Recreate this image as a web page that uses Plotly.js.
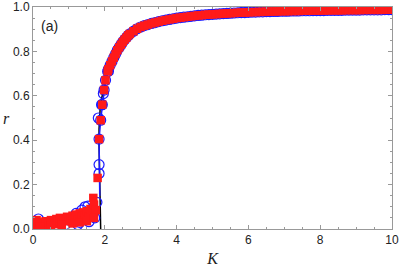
<!DOCTYPE html>
<html>
<head>
<meta charset="utf-8">
<script src="https://cdn.plot.ly/plotly-3.0.1.min.js"></script>
<style>html,body{margin:0;padding:0;background:#fff;}#chart{width:399px;height:271px;}</style>
</head>
<body>
<div id="chart"></div>
<script>
// Low-coupling (incoherent) region, red squares
const kLowRed = [0.00,0.03,0.05,0.10,0.15,0.20,0.25,0.30,0.35,0.40,0.45,0.50,0.55,0.60,0.65,0.70,0.75,0.80,0.85,0.90,0.95,1.00,1.05,1.10,1.15,1.20,1.25,1.30,1.35,1.40,1.45,1.50,1.55,1.60,1.65,1.68,1.70,1.75,1.80,0.20,0.50,0.80,1.10,1.30,1.50,1.70];
const rLowRed = [0.030,0.012,0.020,0.040,0.015,0.030,0.012,0.022,0.035,0.030,0.015,0.040,0.030,0.022,0.045,0.035,0.050,0.030,0.045,0.040,0.055,0.035,0.050,0.060,0.045,0.065,0.040,0.070,0.055,0.075,0.060,0.080,0.055,0.090,0.070,0.140,0.110,0.085,0.230,0.012,0.015,0.018,0.025,0.030,0.035,0.050];
// Low-coupling region, blue circles
const kLowBlue = [0.02,0.05,0.15,0.30,0.45,0.60,0.75,0.90,1.00,1.10,1.20,1.25,1.30,1.36,1.45,1.53,1.56,1.60,1.67,1.72,1.78,1.84,1.84];
const rLowBlue = [0.018,0.020,0.045,0.012,0.020,0.015,0.030,0.020,0.040,0.050,0.070,0.020,0.030,0.085,0.100,0.103,0.033,0.060,0.095,0.050,0.120,0.250,0.290];
// Synchronized branch (both simulations)
const kUp = [1.84,1.885,1.93,1.98,2.02,2.08,2.10,2.15,2.20,2.25,2.30,2.35,2.40,2.45,2.50,2.55,2.60,2.65,2.70,2.80,2.90,3.00,3.10,3.20,3.30,3.40,3.50,3.60,3.70,3.80,3.90,4.00,4.10,4.20,4.30,4.40,4.50,4.60,4.70,4.80,4.90,5.00,5.10,5.20,5.30,5.40,5.50,5.60,5.70,5.80,5.90,6.00,6.10,6.20,6.30,6.40,6.50,6.60,6.70,6.80,6.90,7.00,7.10,7.20,7.30,7.40,7.50,7.60,7.70,7.80,7.90,8.00,8.10,8.20,8.30,8.40,8.50,8.60,8.70,8.80,8.90,9.00,9.10,9.20,9.30,9.40,9.50,9.60,9.70,9.80,9.90,10.00];
const rUp = [0.405,0.490,0.560,0.626,0.670,0.710,0.720,0.738,0.755,0.772,0.788,0.805,0.818,0.830,0.842,0.853,0.862,0.872,0.879,0.891,0.902,0.910,0.916,0.921,0.926,0.930,0.934,0.938,0.941,0.944,0.947,0.950,0.952,0.954,0.956,0.958,0.960,0.962,0.963,0.965,0.966,0.967,0.968,0.969,0.970,0.971,0.972,0.973,0.974,0.975,0.975,0.976,0.977,0.977,0.978,0.978,0.979,0.979,0.980,0.980,0.981,0.981,0.981,0.982,0.982,0.982,0.983,0.983,0.983,0.984,0.984,0.984,0.984,0.985,0.985,0.985,0.985,0.985,0.986,0.986,0.986,0.986,0.986,0.987,0.987,0.987,0.987,0.987,0.987,0.988,0.988,0.988];
// Extra blue circles on the jump
const kJumpBlue = [1.82,1.91,1.96,2.10];
const rJumpBlue = [0.500,0.560,0.610,0.710];
// Theory curves
const kBlack = [1.885,1.87,1.86,1.85,1.84,1.84,1.85,1.87,1.90,1.95,2.00,2.05];
const rBlack = [0.000,0.100,0.200,0.300,0.380,0.450,0.500,0.540,0.580,0.620,0.650,0.680];
const kBlueLine = [1.86,1.85,1.84];
const rBlueLine = [0.150,0.250,0.350];

const xTickVals = [0,2,4,6,8,10];
const xTickText = ['0','2','4','6','8','10'];
const yTickVals = [0,0.2,0.4,0.6,0.8,1.0];
const yTickText = ['0.0','0.2','0.4','0.6','0.8','1.0'];

const traces = [
  {x: kBlack.concat(kUp.slice(5)), y: rBlack.concat(rUp.slice(5)), mode:'lines', line:{color:'#000', width:1.5}, hoverinfo:'skip'},
  {x: kBlueLine.concat(kUp), y: rBlueLine.concat(rUp), mode:'lines', line:{color:'#1a1aff', width:1.5}, hoverinfo:'skip'},
  {x: kLowBlue.concat(kJumpBlue, kUp), y: rLowBlue.concat(rJumpBlue, rUp), mode:'markers',
   marker:{symbol:'circle-open', size:10, color:'#1a1aff', line:{width:1.2, color:'#1a1aff'}}},
  {x: kLowRed.concat(kUp), y: rLowRed.concat(rUp), mode:'markers',
   marker:{symbol:'square', size:8.5, color:'#ff1a1a', line:{width:0}}}
];

const axisCommon = {
  showline:true, mirror:'ticks', linecolor:'#999', linewidth:1,
  ticks:'inside', ticklen:4, tickcolor:'#999', tickwidth:1,
  showgrid:false, zeroline:false,
  tickfont:{family:'Liberation Sans, Arial, sans-serif', size:12, color:'#222'}
};

const layout = {
  width:399, height:271,
  margin:{l:33, r:7, t:7, b:42},
  paper_bgcolor:'#fff', plot_bgcolor:'#fff',
  showlegend:false,
  xaxis: Object.assign({}, axisCommon, {
    range:[0,10], tickvals:xTickVals, ticktext:xTickText,
    minor:{ticks:'inside', dtick:0.5, ticklen:2, tickcolor:'#999'},
    title:{text:'K', font:{family:'Liberation Serif, Times New Roman, serif', size:16, style:'italic', color:'#222'}, standoff:6}
  }),
  yaxis: Object.assign({}, axisCommon, {
    range:[0,1], tickvals:yTickVals, ticktext:yTickText,
    minor:{ticks:'inside', dtick:0.05, ticklen:2, tickcolor:'#999'}
  }),
  annotations:[
    {text:'<i>r</i>', xref:'paper', yref:'paper', x:-0.075, y:0.5, xanchor:'center', yanchor:'middle', showarrow:false,
     font:{family:'Liberation Serif, Times New Roman, serif', size:16, color:'#222'}},
    {text:'(a)', xref:'paper', yref:'paper', x:0.016, y:0.96, xanchor:'left', yanchor:'top', showarrow:false,
     font:{family:'Liberation Sans, Arial, sans-serif', size:14, color:'#222'}}
  ]
};

Plotly.newPlot('chart', traces, layout, {staticPlot:true, displayModeBar:false});
</script>
</body>
</html>
